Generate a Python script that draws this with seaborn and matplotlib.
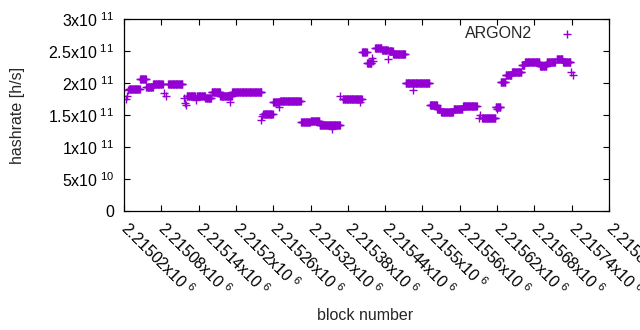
import numpy as np
import pandas as pd
import matplotlib
matplotlib.use('Agg')
import matplotlib.pyplot as plt
import seaborn as sns

# constant-rate runs: first block, last block (exclusive), hashrate
seg_start = [2215028, 2215046, 2215056, 2215067, 2215091, 2215121, 2215137, 2215151,
             2215161, 2215175, 2215194, 2215244, 2215260, 2215271, 2215305, 2215320,
             2215335, 2215372, 2215403, 2215411, 2215424, 2215435, 2215446, 2215453,
             2215473, 2215512, 2215524, 2215530, 2215550, 2215565, 2215596, 2215618,
             2215626, 2215634, 2215644, 2215660, 2215665, 2215689, 2215700, 2215716,
             2215726]
seg_end = [2215046, 2215056, 2215067, 2215083, 2215115, 2215135, 2215151, 2215161,
           2215175, 2215194, 2215242, 2215260, 2215271, 2215305, 2215320, 2215335,
           2215368, 2215403, 2215411, 2215419, 2215435, 2215445, 2215453, 2215473,
           2215512, 2215524, 2215530, 2215550, 2215565, 2215588, 2215618, 2215626,
           2215634, 2215644, 2215660, 2215665, 2215689, 2215700, 2215714, 2215726,
           2215739]
seg_rate = [1.91e11, 2.06e11, 1.93e11, 1.98e11, 1.98e11, 1.80e11, 1.79e11, 1.77e11,
            1.86e11, 1.80e11, 1.86e11, 1.52e11, 1.70e11, 1.72e11, 1.39e11, 1.41e11,
            1.34e11, 1.75e11, 2.48e11, 2.31e11, 2.55e11, 2.52e11, 2.50e11, 2.45e11,
            2.00e11, 1.66e11, 1.59e11, 1.55e11, 1.60e11, 1.64e11, 1.45e11, 1.63e11,
            2.02e11, 2.13e11, 2.17e11, 2.28e11, 2.33e11, 2.27e11, 2.33e11, 2.38e11,
            2.33e11]

# single stray points
odd_block = [2215024, 2215025, 2215026, 2215084, 2215087, 2215116, 2215118, 2215119,
             2215136, 2215190, 2215240, 2215242, 2215269, 2215355, 2215367, 2215400,
             2215419, 2215421, 2215445, 2215485, 2215591, 2215592, 2215620, 2215739,
             2215742]
odd_rate = [1.75e11, 1.80e11, 1.89e11, 1.84e11, 1.80e11, 1.76e11, 1.69e11, 1.66e11,
            1.73e11, 1.70e11, 1.42e11, 1.48e11, 1.63e11, 1.28e11, 1.80e11, 1.70e11,
            2.39e11, 2.35e11, 2.38e11, 1.89e11, 1.45e11, 1.50e11, 1.60e11, 2.17e11,
            2.12e11]

xticks = [2215020 + 60 * i for i in range(14)]
xtick_labels = ['2.21502', '2.21508', '2.21514', '2.2152', '2.21526', '2.21532', '2.21538',
                '2.21544', '2.2155', '2.21556', '2.21562', '2.21568', '2.21574', '2.2158']
yticks = [0, 5e10, 1e11, 1.5e11, 2e11, 2.5e11, 3e11]
ytick_labels = ['0', r'$\mathregular{5x10^{\ 10}}$', r'$\mathregular{1x10^{\ 11}}$',
                r'$\mathregular{1.5x10^{\ 11}}$', r'$\mathregular{2x10^{\ 11}}$',
                r'$\mathregular{2.5x10^{\ 11}}$', r'$\mathregular{3x10^{\ 11}}$']

# one row per block
rows = []
for s, e, r in zip(seg_start, seg_end, seg_rate):
    for b in range(s, e):
        rows.append((b, r))
rows += list(zip(odd_block, odd_rate))
df = pd.DataFrame(rows, columns=['block', 'hashrate']).sort_values('block')

sns.set_style('white')
plt.rcParams['font.family'] = ['Liberation Sans', 'DejaVu Sans']
plt.rcParams['mathtext.fontset'] = 'custom'
plt.rcParams['mathtext.rm'] = 'Liberation Sans'
fs = 11.5

fig = plt.figure(figsize=(6.4, 3.3), dpi=100)
ax = fig.add_axes([124 / 640, 1 - 211 / 330, 485 / 640, 192 / 330])

sns.scatterplot(data=df, x='block', y='hashrate', marker='+', s=34, color='#9400d3',
                linewidth=1.0, ax=ax, label='ARGON2')

ax.set_xlim(2215020, 2215800)
ax.set_ylim(0, 3e11)
ax.set_xticks(xticks)
ax.set_xticklabels([r'$\mathregular{%sx10^{\ 6}}$' % t for t in xtick_labels],
                   rotation=-45, ha='left', va='center', rotation_mode='anchor', fontsize=fs)
ax.set_yticks(yticks)
ax.set_yticklabels(ytick_labels, fontsize=fs)
ax.tick_params(direction='in', length=4, width=0.8, color='black', top=True, right=True,
               bottom=True, left=True, labelcolor='black')
ax.tick_params(axis='x', pad=10)
ax.tick_params(axis='y', pad=7)
for sp in ax.spines.values():
    sp.set_color('black')
    sp.set_linewidth(0.9)

ax.set_xlabel('block number', fontsize=fs)
ax.set_ylabel('hashrate [h/s]', fontsize=fs)
ax.xaxis.set_label_coords(0.497, -0.505)
ax.yaxis.set_label_coords(-0.205, 0.5)

# gnuplot-style key: label first, sample after
leg = ax.legend(loc='upper right', frameon=False, markerfirst=False, fontsize=fs,
                bbox_to_anchor=(0.946, 0.965), borderaxespad=0, borderpad=0,
                handletextpad=1.2, handlelength=2.0)

fig.savefig('out.png', dpi=100)
